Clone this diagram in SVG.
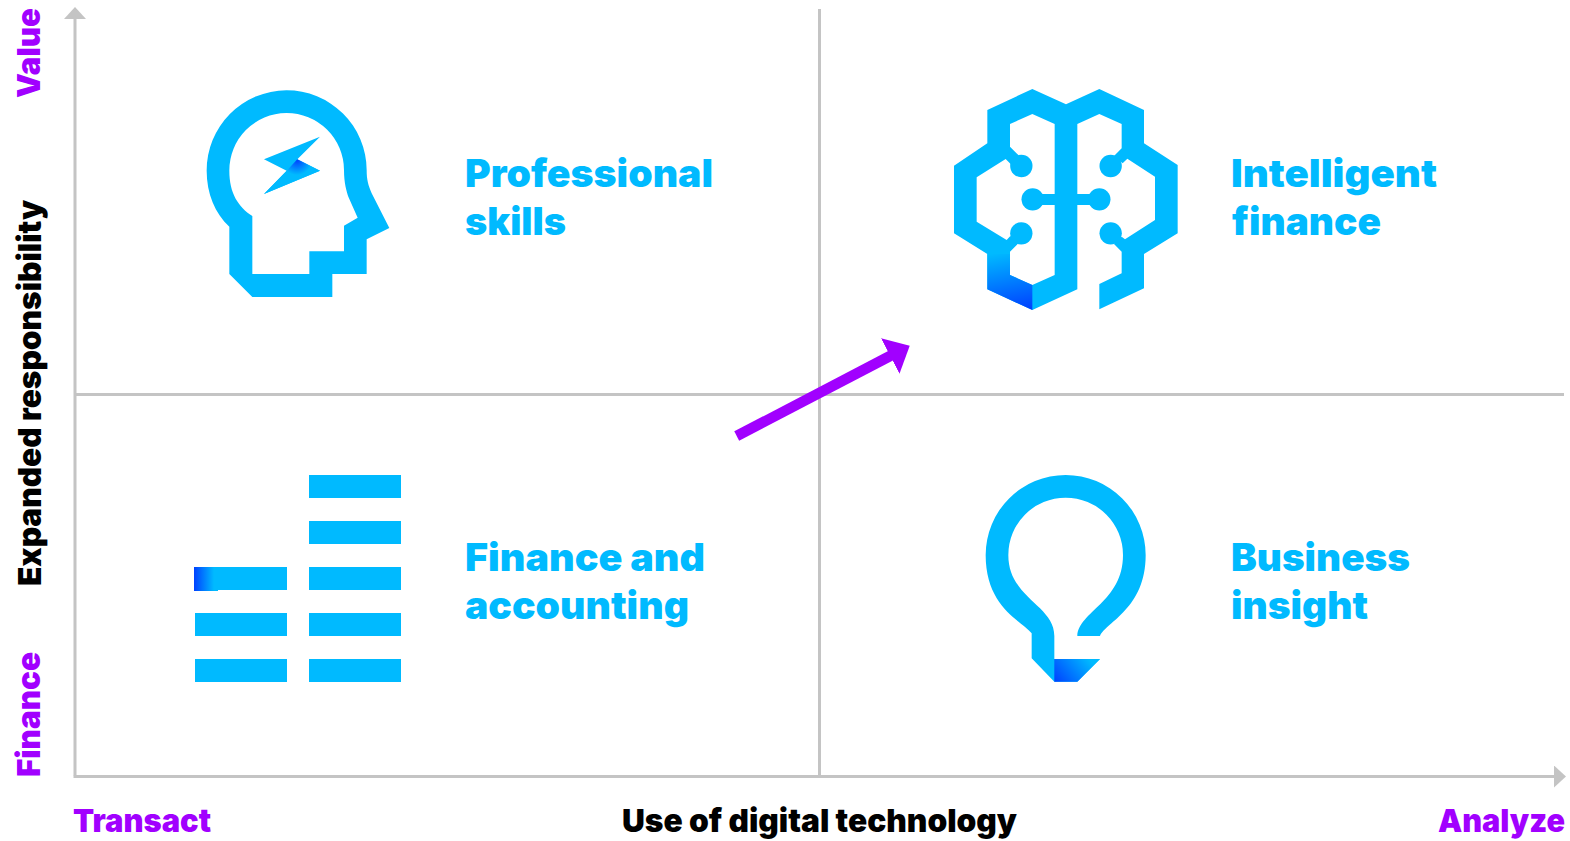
<svg xmlns="http://www.w3.org/2000/svg" width="1570" height="841" viewBox="0 0 1570 841">
<style>
text{font-family:"Inter","Liberation Sans",sans-serif;font-weight:900;}
.lbl{font-size:39px;fill:#00baff}
.ax{font-size:32px}
.p{fill:#a100ff}
.k{fill:#000}
.b{fill:#00baff}
.grid{stroke:#c4c4c4;stroke-width:3;fill:none}
</style>
<defs>
<marker id="ga" markerUnits="userSpaceOnUse" viewBox="0 0 12 22" refX="1" refY="11" markerWidth="12" markerHeight="22" orient="auto"><path d="M0 0L12 11L0 22Z" fill="#c4c4c4"/></marker>
<marker id="pa" markerUnits="userSpaceOnUse" viewBox="0 0 22 40" refX="2" refY="20" markerWidth="22" markerHeight="40" orient="auto"><path d="M0 0L22 20L0 40Z" fill="#a100ff"/></marker>
<radialGradient id="g1" gradientUnits="userSpaceOnUse" cx="297" cy="160" r="15"><stop offset="0" stop-color="#0041ff"/><stop offset="1" stop-color="#00baff"/></radialGradient>
<linearGradient id="g2" gradientUnits="userSpaceOnUse" x1="215" y1="510" x2="250" y2="690"><stop offset="0" stop-color="#00baff"/><stop offset="1" stop-color="#0041ff"/></linearGradient>
<linearGradient id="g3" gradientUnits="userSpaceOnUse" x1="1054" y1="681" x2="1086" y2="655"><stop offset="0" stop-color="#0041ff"/><stop offset="1" stop-color="#00baff"/></linearGradient>
<linearGradient id="g4" gradientUnits="userSpaceOnUse" x1="194" y1="0" x2="214" y2="0"><stop offset="0" stop-color="#0041ff"/><stop offset="1" stop-color="#00baff"/></linearGradient>
</defs>
<g id="connectors">
<path class="grid" d="M75 775.500V18" marker-end="url(#ga)"/>
<path class="grid" d="M73.500 776.500H1555" marker-end="url(#ga)"/>
<path class="grid" d="M819.500 9V776"/>
<path class="grid" d="M75 394.500H1564"/>
<path d="M736.700 436L892 355" stroke="#a100ff" stroke-width="10.500" fill="none" marker-end="url(#pa)"/>
</g>
<g id="professional-skills">
<g transform="translate(190 80) scale(.33333)">
<path class="b" fill-rule="evenodd" d="M187 651H427V582H530V478L598 444L545 340C535 315 530 300 530 270A240 240 0 0 0 50 272C50 340 75 400 118 440V582ZM187 582V408C145 380 118 340 118 272A172 172 0 0 1 462 270C462 310 470 335 475 350L503 413L462 437V514H358V582Z"/>
<path class="b" d="M222 238L390 170L322 238L390 272L222 342L290 272Z"/>
</g>
<path fill="url(#g1)" d="M297.300 159.300L320 170.700L264 194L286.700 170.700Z"/>
<text class="lbl" x="465" y="186.500" textLength="248" lengthAdjust="spacingAndGlyphs">Professional</text>
<text class="lbl" x="465" y="234.500" textLength="101" lengthAdjust="spacingAndGlyphs">skills</text>
</g>
<g id="intelligent-finance">
<g transform="translate(940 80) scale(.33333)">
<path class="b" fill-rule="evenodd" d="M378 73L478 27L612 90V190L713 255V460L612 522V625L478 688V612L545 580V515L522 492L545 470L555 478L645 420V290L562 236L548 250L522 228L545 205V132L478 102L412 132V342H450V375H412V628L277 690L142 628V522L42 460V257L142 190V90L277 27ZM344 132V342H305V375H344V585L277 615L210 585V515L235 490L211 468L200 480L110 425V292L197 237L220 260L235 225L210 200V132L277 102Z"/>
<circle class="b" cx="244" cy="258" r="33.500"/><circle class="b" cx="244" cy="460" r="33.500"/><circle class="b" cx="278" cy="358" r="33.500"/><circle class="b" cx="478" cy="358" r="33.500"/><circle class="b" cx="512" cy="258" r="33.500"/><circle class="b" cx="512" cy="460" r="33.500"/>
<path fill="url(#g2)" d="M142 522H210V585L277 615V690L142 628Z"/>
</g>
<text class="lbl" x="1231" y="186.500" textLength="206" lengthAdjust="spacingAndGlyphs">Intelligent</text>
<text class="lbl" x="1232" y="234.500" textLength="149" lengthAdjust="spacingAndGlyphs">finance</text>
</g>
<g id="finance-and-accounting">
<path class="b" d="M309 475h92v23h-92zM309 521h92v23h-92zM309 567h92v23h-92zM309 613h92v23h-92zM309 659h92v23h-92zM195 567h92v23h-92zM195 613h92v23h-92zM195 659h92v23h-92z"/>
<rect x="194" y="567" width="24" height="24" fill="url(#g4)"/>
<text class="lbl" x="465" y="571" textLength="240" lengthAdjust="spacingAndGlyphs">Finance and</text>
<text class="lbl" x="465" y="619" textLength="224" lengthAdjust="spacingAndGlyphs">accounting</text>
</g>
<g id="business-insight">
<g transform="translate(970 465) scale(.33333)">
<path class="b" d="M185 580V505C160 470 47 430 47 270A240 240 0 0 1 527 270C527 430 410 470 390 513H322C325 440 459 410 459 270A172 172 0 0 0 115 270C115 400 253 420 253 513V582H390L322 650H253Z"/>
</g>
<path fill="url(#g3)" d="M1054.300 659H1100L1077.300 681.700H1054.300Z"/>
<text class="lbl" x="1231" y="571" textLength="179" lengthAdjust="spacingAndGlyphs">Business</text>
<text class="lbl" x="1231" y="619" textLength="137" lengthAdjust="spacingAndGlyphs">insight</text>
</g>
<g id="axis-labels">
<text class="ax p" x="73" y="832" textLength="138" lengthAdjust="spacingAndGlyphs">Transact</text>
<text class="ax k" x="622" y="832" textLength="395" lengthAdjust="spacingAndGlyphs">Use of digital technology</text>
<text class="ax p" x="1438" y="832" textLength="127" lengthAdjust="spacingAndGlyphs">Analyze</text>
<text class="ax p" transform="translate(40 98) rotate(-90)" textLength="90" lengthAdjust="spacingAndGlyphs">Value</text>
<text class="ax k" transform="translate(41 586) rotate(-90)" textLength="386" lengthAdjust="spacingAndGlyphs">Expanded responsibility</text>
<text class="ax p" transform="translate(40 777) rotate(-90)" textLength="125" lengthAdjust="spacingAndGlyphs">Finance</text>
</g>
</svg>
